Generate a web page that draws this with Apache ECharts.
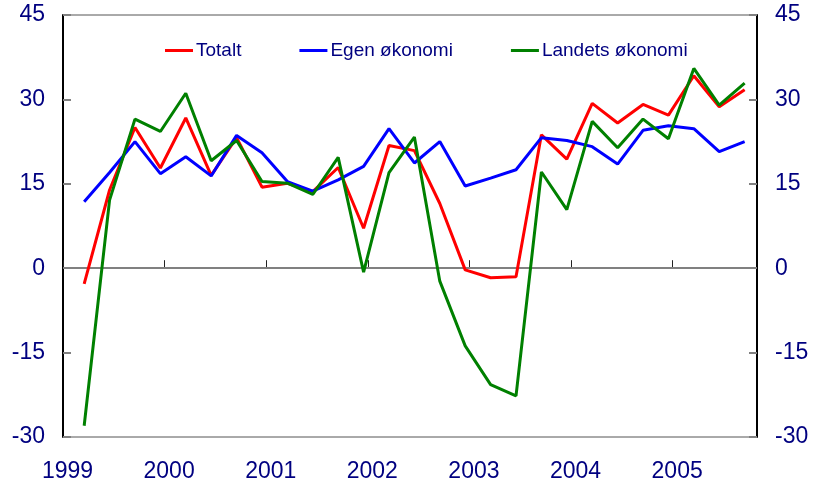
<!DOCTYPE html>
<html>
<head>
<meta charset="utf-8">
<script src="https://cdn.jsdelivr.net/npm/echarts@6/dist/echarts.min.js"></script>
<style>
  html, body { margin: 0; padding: 0; background: #fff; }
  #chart { width: 814px; height: 488px; }
</style>
</head>
<body>
<div id="chart"></div>
<script>
// kvartalstall 1999K1 - 2005K3
const startYear = 1999;
const totalt = [-2.8, 13.9, 25.0, 17.8, 26.7, 16.5, 23.2, 14.4, 15.1, 13.6, 17.9, 7.1, 21.8, 20.9,
  11.5, -0.3, -1.7, -1.5, 23.7, 19.4, 29.3, 25.8, 29.1, 27.2, 34.2, 28.7, 31.7];
const egen = [11.8, 17.0, 22.5, 16.8, 19.8, 16.4, 23.6, 20.5, 15.4, 13.7, 15.7, 18.1, 24.8, 18.7,
  22.5, 14.6, 16.0, 17.5, 23.2, 22.7, 21.6, 18.5, 24.5, 25.3, 24.8, 20.7, 22.5];
const landets = [-28.0, 12.1, 26.5, 24.3, 31.1, 19.1, 22.7, 15.4, 15.1, 13.1, 19.7, -0.7, 17.0, 23.3,
  -2.3, -13.8, -20.7, -22.7, 17.1, 10.4, 26.1, 21.4, 26.5, 23.0, 35.5, 29.0, 32.9];
const yearTicks = [1999, 2000, 2001, 2002, 2003, 2004, 2005];
const names = ['Totalt', 'Egen økonomi', 'Landets økonomi'];

// punktene ligger midt i siste maaned i kvartalet
function toPoints(vals) {
  return vals.map((v, i) => [startYear + (2.5 + 3 * i) / 12, v]);
}

const textColor = '#000080';
const font = 'Liberation Sans, Arial, sans-serif';

let myChart = echarts.init(document.getElementById('chart'));

function yAxis(pos) {
  return {
    type: 'value',
    position: pos,
    min: -30,
    max: 45,
    interval: 15,
    axisLine: { show: true, lineStyle: { color: '#000', width: 2 } },
    axisTick: { show: true, inside: true, length: 8, lineStyle: { color: '#808080', width: 2 } },
    axisLabel: { color: textColor, fontSize: 23, fontFamily: font, margin: 18 },
    splitLine: { show: false }
  };
}

function line(name, vals, color, withZero) {
  let s = {
    name: name,
    type: 'line',
    data: toPoints(vals),
    symbol: 'none',
    lineStyle: { color: color, width: 3 },
    itemStyle: { color: color },
    z: 3
  };
  if (withZero) {
    s.markLine = {
      silent: true,
      symbol: 'none',
      label: { show: false },
      lineStyle: { color: '#808080', width: 2, type: 'solid' },
      data: [{ yAxis: 0 }],
      z: 1
    };
  }
  return s;
}

let option = {
  animation: false,
  grid: {
    left: 63, right: 57, top: 15, bottom: 51,
    show: true, borderColor: '#555', borderWidth: 1
  },
  legend: {
    data: names,
    left: 160,
    top: 36,
    itemWidth: 28,
    itemHeight: 3,
    itemGap: 58,
    icon: 'rect',
    textStyle: { color: textColor, fontSize: 19, fontFamily: font, padding: [0, 0, 0, -2] }
  },
  xAxis: {
    type: 'value',
    min: 1999,
    max: 2005.83,
    interval: 1,
    axisLine: { show: true, lineStyle: { color: '#000', width: 2 } },
    axisTick: { show: true, inside: true, length: 8, lineStyle: { color: '#222', width: 1 } },
    axisLabel: {
      color: textColor, fontSize: 23, fontFamily: font, margin: 23,
      padding: [0, 0, 0, 9],
      showMaxLabel: false,
      formatter: v => (yearTicks.indexOf(v) >= 0 ? String(v) : '')
    },
    splitLine: { show: false }
  },
  yAxis: [yAxis('left'), yAxis('right')],
  series: [
    line(names[0], totalt, '#ff0000', true),
    line(names[1], egen, '#0000ff', false),
    line(names[2], landets, '#008000', false)
  ]
};

myChart.setOption(option);
</script>
</body>
</html>
